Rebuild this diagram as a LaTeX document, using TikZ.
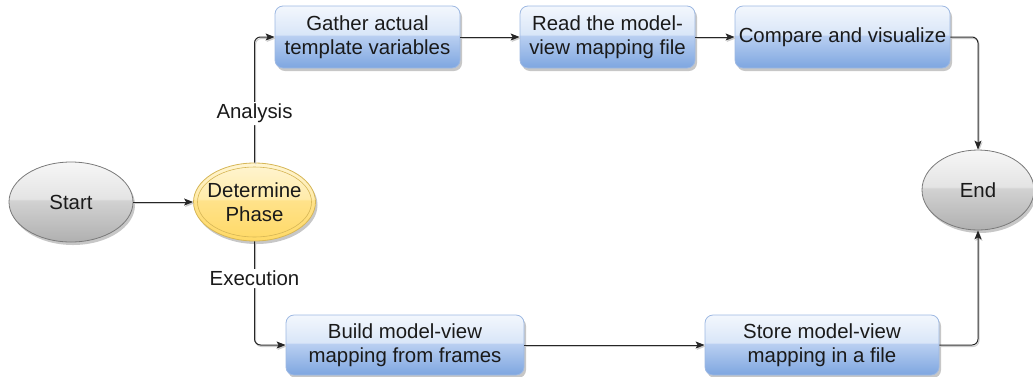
\documentclass[tikz,border=0pt]{standalone}
\usepackage{fontspec}
\setmainfont{Liberation Sans}
\usetikzlibrary{arrows.meta,shadows,shapes.geometric}

% palette
\definecolor{bluetop}{HTML}{F3F7FD}
\definecolor{bluehi}{HTML}{D9E6F8}
\definecolor{bluelo}{HTML}{B9CFF1}
\definecolor{bluebot}{HTML}{7EA6E0}
\definecolor{bluestroke}{HTML}{9DB8E2}
\definecolor{graytop}{HTML}{F6F6F6}
\definecolor{grayhi}{HTML}{E4E4E4}
\definecolor{graylo}{HTML}{D2D2D2}
\definecolor{graybot}{HTML}{B0B0B0}
\definecolor{graystroke}{HTML}{7A7A7A}
\definecolor{yeltop}{HTML}{FFF5D2}
\definecolor{yelhi}{HTML}{FFEBAA}
\definecolor{yello}{HTML}{FFE28A}
\definecolor{yelbot}{HTML}{FFD966}
\definecolor{yelstroke}{HTML}{D6B656}
\definecolor{ink}{HTML}{1A1A1A}

% glossy two-tone vertical fills
\pgfdeclareverticalshading{glassblue}{100bp}{color(0bp)=(bluebot); color(25bp)=(bluebot);
  color(51bp)=(bluelo); color(52bp)=(bluehi); color(75bp)=(bluetop); color(100bp)=(bluetop)}
\pgfdeclareverticalshading{glassgray}{100bp}{color(0bp)=(graybot); color(25bp)=(graybot);
  color(51bp)=(graylo); color(52bp)=(grayhi); color(75bp)=(graytop); color(100bp)=(graytop)}
\pgfdeclareverticalshading{glassyel}{100bp}{color(0bp)=(yelbot); color(25bp)=(yelbot);
  color(51bp)=(yello); color(52bp)=(yelhi); color(75bp)=(yeltop); color(100bp)=(yeltop)}

\tikzset{
  softshadow/.style={drop shadow={shadow xshift=2pt, shadow yshift=-3pt, opacity=0.22, fill=black}},
  procbox/.style={rectangle, rounded corners=8pt, draw=bluestroke, line width=0.8pt,
    shading=glassblue, minimum height=62pt, align=center, inner sep=2pt, softshadow},
  terminal/.style={ellipse, draw=graystroke, line width=0.8pt, shading=glassgray,
    inner sep=0pt, softshadow},
  decision/.style={ellipse, draw=yelstroke, line width=0.8pt, shading=glassyel,
    inner sep=0pt, softshadow},
  flow/.style={draw=black!85, line width=1pt, rounded corners=6pt,
    -{Stealth[length=9pt, width=7pt, inset=2pt]},
    preaction={draw=black!20, line width=1pt, transform canvas={xshift=1pt, yshift=-1.5pt}}},
  lbl/.style={fill=white, inner sep=2pt}
}

\begin{document}
\begin{tikzpicture}[x=1pt, y=-1pt, font=\fontsize{20.4}{23.5}\selectfont, text=ink]
\useasboundingbox (0,0) rectangle (1033,376);

% start / end and the decision
\node[terminal, minimum width=124pt, minimum height=80pt, label=center:Start] (start) at (71,202) {};
\node[decision, minimum width=122pt, minimum height=78pt,
      label={[align=center]center:Determine\\Phase}] (det) at (254.5,202) {};
\draw[yelstroke, line width=0.6pt] (det.center) ellipse [x radius=57pt, y radius=35pt];
\node[terminal, minimum width=112pt, minimum height=80pt, label=center:End] (end) at (978,190) {};

% analysis branch
\node[procbox, minimum width=185pt] (gather) at (367.5,37) {Gather actual\\template variables};
\node[procbox, minimum width=175pt] (read) at (607.5,37) {Read the model-\\view mapping file};
\node[procbox, minimum width=215pt] (compare) at (842.5,37) {Compare and visualize};

% execution branch
\node[procbox, minimum width=238pt, minimum height=60pt] (build) at (405,345) {Build model-view\\mapping from frames};
\node[procbox, minimum width=234pt, minimum height=60pt] (store) at (822,345) {Store model-view\\mapping in a file};

% connectors
\draw[flow] (start) -- (det);
\draw[flow] (det.north) |- node[lbl, pos=0.195] (analysis) {Analysis} (gather.west);
\draw[flow] (det.south) |- node[lbl, pos=0.18] (execution) {Execution} (build.west);
\draw[flow] (gather) -- (read);
\draw[flow] (read) -- (compare);
\draw[flow] (compare.east) -| (end.north);
\draw[flow] (build) -- (store);
\draw[flow] (store.east) -| (end.south);
\end{tikzpicture}
\end{document}
